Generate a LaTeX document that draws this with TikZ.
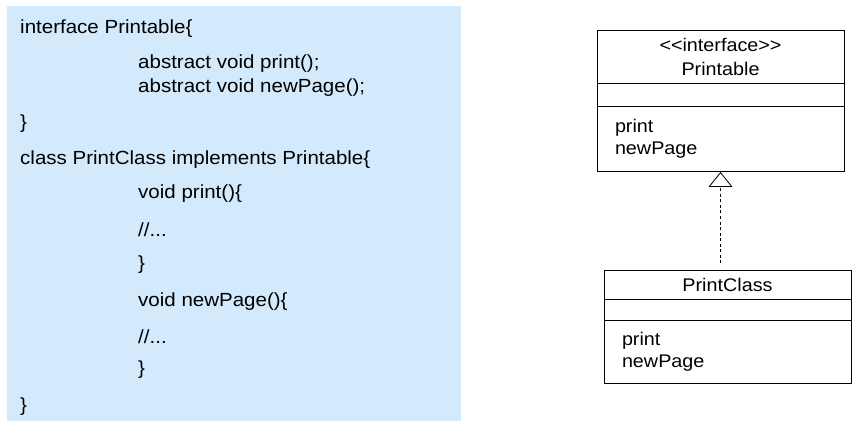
\documentclass[tikz,border=0pt]{standalone}
\usepackage{fontspec}
\setmainfont{Liberation Sans}[FakeStretch=1.08]
\usetikzlibrary{positioning,arrows.meta}
\definecolor{codebg}{RGB}{211,234,252}
\begin{document}
\begin{tikzpicture}[x=1pt,y=-1pt,
  code/.style={anchor=west, inner sep=0pt, font=\fontsize{19}{24}\selectfont, text height=13pt, text depth=0pt},
  part/.style={draw, line width=0.8pt, minimum width=247pt, inner sep=0pt, outer sep=0pt, align=center, font=\fontsize{18.3}{24}\selectfont},
  ops/.style={part, align=left, text width=211pt, font=\fontsize{18.3}{22}\selectfont}]
\useasboundingbox (0,0) rectangle (858,430);
% code listing
\node[fill=codebg, minimum width=454pt, minimum height=415pt, inner sep=0pt, anchor=north west] (bg) at (7,6) {};
\node[code] (l1) at (20,27) {interface Printable\{};
\node[code] (l2) at (138,62) {abstract void print();};
\node[code] (l3) at (138,86) {abstract void newPage();};
\node[code] (l4) at (20,122) {\}};
\node[code] (l5) at (20,158) {class PrintClass implements Printable\{};
\node[code] (l6) at (138,192) {void print()\{};
\node[code] (l7) at (138,230) {//...};
\node[code] (l8) at (138,263) {\}};
\node[code] (l9) at (138,300) {void newPage()\{};
\node[code] (l10) at (138,337) {//...};
\node[code] (l11) at (138,368) {\}};
\node[code] (l12) at (20,405) {\}};
% interface box
\node[part, minimum height=53pt, anchor=north] (pt) at (720.5,30) {<\kern0pt<interface>\kern0pt>\\Printable};
\node[part, minimum height=23pt, below=0pt of pt] (pa) {};
\node[ops, minimum height=65pt, below=0pt of pa] (po) {print\\newPage};
% class box
\node[part, minimum height=29pt, anchor=north] (ct) at (727.5,270) {PrintClass};
\node[part, minimum height=21pt, below=0pt of ct] (ca) {};
\node[ops, minimum height=63pt, below=0pt of ca] (co) {print\\newPage};
% realization
\draw[dashed, dash pattern=on 3pt off 2.5pt, line width=0.8pt, shorten <=7pt, shorten >=1pt,
  -{Triangle[open, width=24pt, length=15pt, line width=0.8pt]}] (pt.south |- ct.north) -- (po.south);
\end{tikzpicture}
\end{document}
